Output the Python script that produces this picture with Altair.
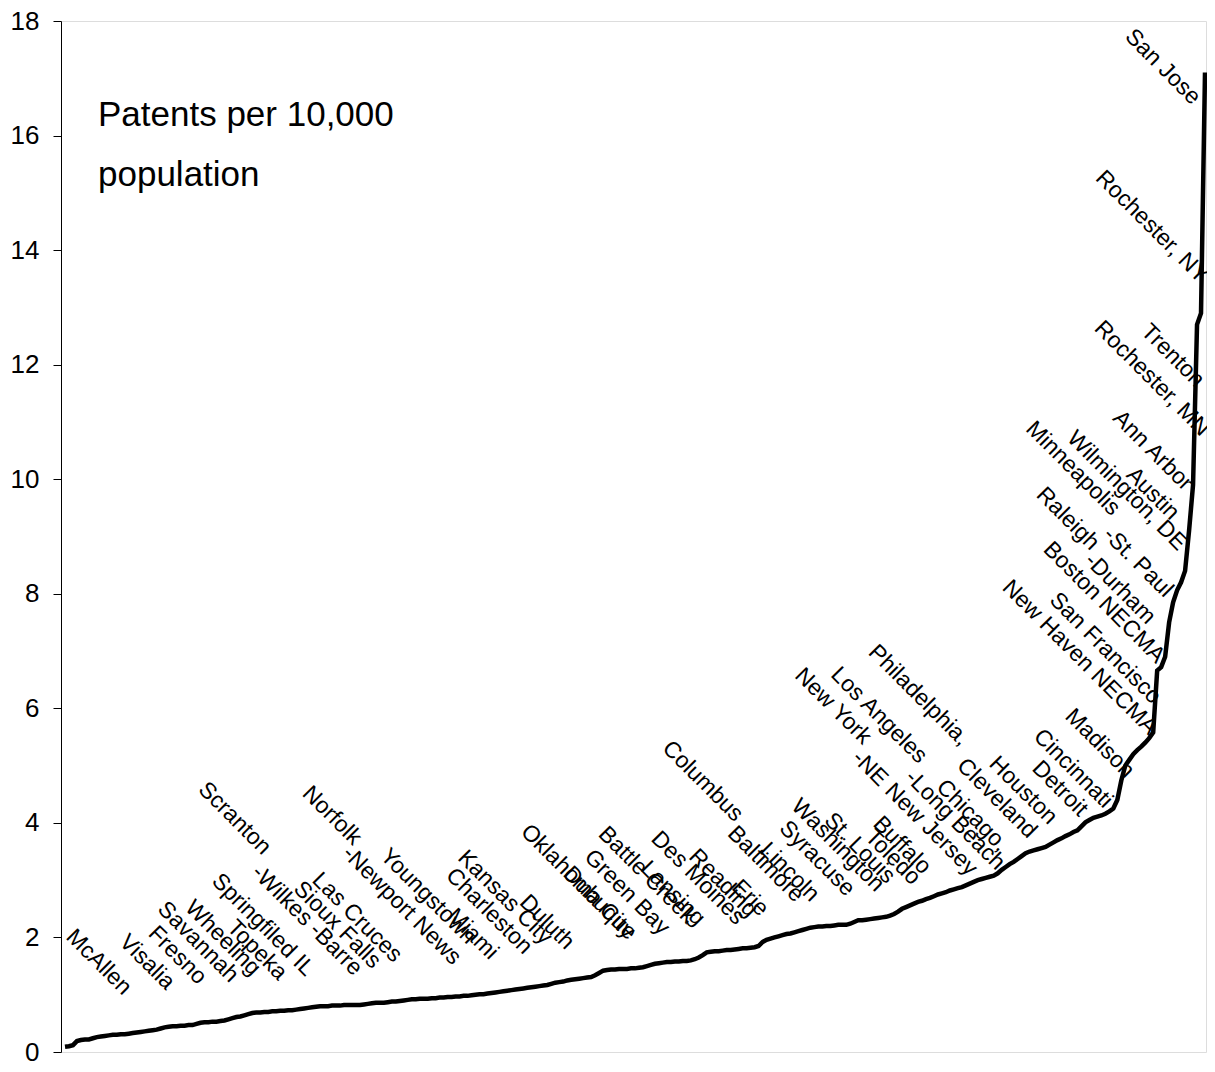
import altair as alt
import pandas as pd

# Patents per 10,000 population, metro areas sorted ascending
values = [
    0.09, 0.1, 0.12, 0.19, 0.21, 0.22, 0.22, 0.24, 0.26, 0.27,
    0.28, 0.29, 0.3, 0.3, 0.31, 0.31, 0.32, 0.33, 0.34, 0.35,
    0.36, 0.37, 0.38, 0.39, 0.41, 0.43, 0.44, 0.45, 0.45, 0.46,
    0.46, 0.47, 0.47, 0.49, 0.51, 0.52, 0.52, 0.53, 0.53, 0.54,
    0.55, 0.57, 0.59, 0.61, 0.62, 0.64, 0.66, 0.68, 0.69, 0.69,
    0.7, 0.7, 0.71, 0.71, 0.72, 0.72, 0.73, 0.73, 0.74, 0.75,
    0.76, 0.77, 0.78, 0.79, 0.8, 0.8, 0.8, 0.81, 0.81, 0.81,
    0.82, 0.82, 0.82, 0.82, 0.82, 0.83, 0.84, 0.85, 0.86, 0.86,
    0.86, 0.87, 0.88, 0.88, 0.89, 0.9, 0.91, 0.92, 0.92, 0.93,
    0.93, 0.93, 0.94, 0.94, 0.95, 0.95, 0.96, 0.96, 0.97, 0.97,
    0.98, 0.98, 0.99, 1.0, 1.01, 1.01, 1.02, 1.03, 1.04, 1.05,
    1.06, 1.07, 1.08, 1.09, 1.1, 1.11, 1.12, 1.13, 1.14, 1.15,
    1.16, 1.17, 1.19, 1.21, 1.22, 1.23, 1.25, 1.26, 1.27, 1.28,
    1.29, 1.3, 1.31, 1.34, 1.38, 1.42, 1.43, 1.44, 1.44, 1.45,
    1.45, 1.45, 1.46, 1.46, 1.47, 1.48, 1.5, 1.52, 1.54, 1.55,
    1.56, 1.57, 1.57, 1.58, 1.58, 1.59, 1.59, 1.6, 1.62, 1.65,
    1.69, 1.74, 1.75, 1.76, 1.76, 1.77, 1.78, 1.78, 1.79, 1.8,
    1.81, 1.81, 1.82, 1.83, 1.85, 1.92, 1.96, 1.98, 2.0, 2.02,
    2.04, 2.06, 2.07, 2.09, 2.11, 2.13, 2.15, 2.17, 2.18, 2.19,
    2.19, 2.2, 2.2, 2.21, 2.22, 2.22, 2.22, 2.24, 2.27, 2.3,
    2.3, 2.31, 2.32, 2.33, 2.34, 2.35, 2.36, 2.38, 2.41, 2.45,
    2.5, 2.53, 2.56, 2.59, 2.62, 2.64, 2.67, 2.69, 2.72, 2.75,
    2.77, 2.79, 2.82, 2.84, 2.86, 2.88, 2.91, 2.94, 2.97, 3.0,
    3.02, 3.04, 3.06, 3.08, 3.12, 3.18, 3.23, 3.28, 3.32, 3.37,
    3.42, 3.47, 3.5, 3.52, 3.54, 3.56, 3.58, 3.62, 3.66, 3.7,
    3.73, 3.77, 3.8, 3.84, 3.87, 3.94, 4.01, 4.05, 4.09, 4.11,
    4.13, 4.16, 4.2, 4.25, 4.4, 4.74, 5.0, 5.1, 5.2, 5.27,
    5.33, 5.4, 5.48, 5.58, 6.66, 6.72, 6.9, 7.5, 7.85, 8.06,
    8.2, 8.4, 9.1, 9.9, 12.7, 12.9, 17.1,
]
ranks = list(range(1, len(values) + 1))

# City labels: text, and the centre of each label in data units (rank, value)
label_text = [
    "San Jose", "Rochester, NY", "Trenton", "Rochester, MN", "Ann Arbor",
    "Austin", "Wilmington, DE", "Minneapolis", "-St. Paul", "Raleigh",
    "-Durham", "Boston NECMA", "San Francisco", "New Haven NECMA", "Madison",
    "Cincinnati", "Detroit", "Houston", "Cleveland", "Chicago,",
    "-Long Beach", "Los Angeles", "New York", "-NE New Jersey", "Philadelphia,",
    "Buffalo", "Toledo", "St. Louis", "Washington", "Syracuse",
    "Lincoln", "Baltimore", "Erie", "Reading", "Des Moines",
    "Lansing", "Battle Creek", "Green Bay", "Dubuque", "Oklahoma City",
    "Duluth", "Kansas City", "Charleston", "Miami", "Youngstown",
    "Norfolk", "-Newport News", "Scranton", "-Wilkes -Barre", "Las Cruces",
    "Sioux Falls", "Springfiled IL", "Topeka", "Wheeling", "Savannah",
    "Fresno", "Visalia", "McAllen", "Columbus",
]
label_rank = [
    276.4, 273.7, 278.9, 273.7, 273.9,
    273.9, 267.4, 253.9, 270.2, 252.6,
    265.7, 261.7, 262.0, 255.6, 260.6,
    253.9, 250.6, 241.4, 234.8, 228.6,
    224.3, 205.2, 193.7, 214.2, 215.2,
    211.0, 208.7, 200.4, 194.9, 189.7,
    182.8, 176.8, 172.9, 166.1, 159.8,
    153.5, 147.0, 142.0, 135.2, 129.7,
    121.9, 111.4, 107.4, 103.3, 92.1,
    68.0, 85.5, 43.6, 61.7, 74.3,
    69.3, 50.7, 49.2, 40.6, 34.4,
    29.2, 21.6, 9.5, 161.0,
]
label_value = [
    17.2, 14.41, 12.16, 11.76, 10.5,
    9.75, 9.8, 10.19, 8.55, 9.31,
    8.09, 7.85, 7.05, 6.89, 5.39,
    4.95, 4.6, 4.57, 4.43, 4.13,
    4.05, 5.88, 6.04, 4.17, 6.23,
    3.61, 3.4, 3.56, 3.61, 3.38,
    3.14, 3.28, 2.69, 2.95, 3.04,
    2.77, 3.09, 2.79, 2.6, 2.98,
    2.27, 2.7, 2.46, 2.06, 2.72,
    4.13, 2.56, 4.08, 2.3, 2.35,
    2.22, 2.22, 1.78, 1.99, 1.92,
    1.69, 1.57, 1.57, 4.73,
]

title_text = ["Patents per 10,000\npopulation"]
title_rank = [9.28]
title_value = [16.17]

y_ticks = [0, 2, 4, 6, 8, 10, 12, 14, 16, 18]

FONT = "Liberation Sans, Arial, Helvetica, sans-serif"

line_df = pd.DataFrame({"rank": ranks, "value": values})
lab_df = pd.DataFrame({"label": label_text, "rank": label_rank, "value": label_value})
title_df = pd.DataFrame({"t": title_text, "rank": title_rank, "value": title_value})

xscale = alt.Scale(domain=[0, 287.25], nice=False, zero=False)
yscale = alt.Scale(domain=[0, 18], nice=False)

line = alt.Chart(line_df).mark_line(color="black", strokeWidth=4.5).encode(
    x=alt.X("rank:Q", scale=xscale, axis=None),
    y=alt.Y(
        "value:Q",
        scale=yscale,
        axis=alt.Axis(
            values=y_ticks,
            format="d",
            title=None,
            grid=False,
            domainColor="black",
            tickColor="black",
            tickSize=8,
            labelPadding=14,
            labelFont=FONT,
            labelFontSize=26,
            labelColor="black",
        ),
    ),
)

labels = alt.Chart(lab_df).mark_text(
    angle=45, align="center", baseline="middle", font=FONT, fontSize=23, color="black"
).encode(
    x=alt.X("rank:Q", scale=xscale),
    y=alt.Y("value:Q", scale=yscale),
    text="label:N",
)

title = alt.Chart(title_df).mark_text(
    align="left", baseline="alphabetic", font=FONT, fontSize=35, lineHeight=60,
    lineBreak="\n", color="black"
).encode(
    x=alt.X("rank:Q", scale=xscale),
    y=alt.Y("value:Q", scale=yscale),
    text="t:N",
)

chart = (
    alt.layer(line, labels, title)
    .properties(
        width=1145,
        height=1031,
        autosize=alt.AutoSizeParams(type="none"),
        padding={"left": 53, "top": 13, "right": 1, "bottom": 14},
    )
    .configure_view(stroke="#808080", strokeWidth=1)
    .configure(background="white")
)

chart.save("out.html", embed_options={"renderer": "svg", "actions": False})
